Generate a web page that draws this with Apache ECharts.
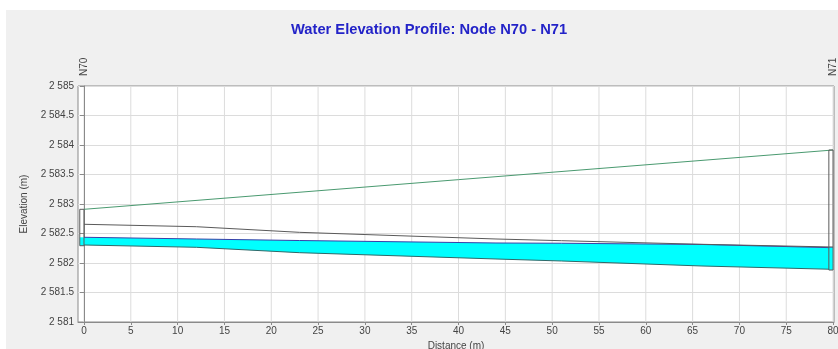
<!DOCTYPE html>
<html>
<head>
<meta charset="utf-8">
<script src="https://cdn.jsdelivr.net/npm/echarts@6/dist/echarts.min.js"></script>
<style>
html,body{margin:0;padding:0;background:#fff;}
#chart{width:838px;height:349px;}
</style>
</head>
<body>
<div id="chart"></div>
<script>
// ---- data ----
const titleText = 'Water Elevation Profile: Node N70 - N71';
const xTicks = [0,5,10,15,20,25,30,35,40,45,50,55,60,65,70,75,80];
const nodeNames = ['N70','N71'];
const nodeX = [0, 80];
const nodeRim = [2582.91, 2583.915];
const nodeInvert = [2582.293, 2581.881];
const nodeWater = [2582.436, 2582.259];
const profileDist = [0, 12, 23, 44, 51, 66, 80];
const crownElev = [2582.656, 2582.615, 2582.520, 2582.407, 2582.378, 2582.317, 2582.271];
const waterElev = [2582.436, 2582.407, 2582.381, 2582.339, 2582.335, 2582.314, 2582.259];
const invertElev = [2582.305, 2582.266, 2582.175, 2582.068, 2582.034, 2581.949, 2581.893];

// ---- chart ----
const NODE_W = 0.45; // node box width in m (drawn left of node)
const Y_MIN = 2581, Y_MAX = 2585;
const chart = echarts.init(document.getElementById('chart'), null, {renderer:'canvas'});
const FONT = '"Liberation Sans", Arial, sans-serif';
const LBL = '#444';

function fmtElev(v){
  const s = String(Math.round(v*10)/10);
  const parts = s.split('.');
  const ip = parts[0];
  const head = ip.slice(0, ip.length-3), tail = ip.slice(-3);
  return (head ? head + ' ' : '') + tail + (parts[1] ? '.' + parts[1] : '');
}

const option = {
  animation:false,
  backgroundColor:'#ffffff',
  graphic:[{type:'rect', left:6, top:10, shape:{width:832, height:339}, style:{fill:'#f0f0f0'}, z:-10, silent:true}],
  title:{
    text:titleText, left:291, top:22, padding:0,
    textStyle:{color:'#2323c8', fontSize:14.7, fontWeight:'bold', fontFamily:FONT}
  },
  grid:{left:78, right:4, top:86, bottom:27, outerBoundsMode:'none', containLabel:false,
    show:true, backgroundColor:'#ffffff', borderColor:'#8a8a8a', borderWidth:1},
  xAxis:[{
    type:'value', min:-0.64, max:80.1, position:'bottom',
    name:'Distance (m)', nameLocation:'middle', nameGap:17,
    nameTextStyle:{color:LBL, fontSize:10, fontFamily:FONT},
    axisLine:{show:true, lineStyle:{color:'#8a8a8a'}},
    axisTick:{show:true, length:3, customValues:xTicks, lineStyle:{color:'#8a8a8a'}},
    axisLabel:{customValues:xTicks, color:LBL, fontSize:10, fontFamily:FONT, margin:4},
    splitLine:{show:false}
  },{
    type:'value', min:-0.64, max:80.1, position:'top',
    axisLine:{show:false}, axisTick:{show:false}, splitLine:{show:false},
    axisLabel:{customValues:nodeX, rotate:-90, margin:10, color:LBL, fontSize:10, fontFamily:FONT,
      formatter:function(v){ const i = nodeX.indexOf(v); return i >= 0 ? nodeNames[i] : ''; }}
  }],
  yAxis:{
    type:'value', min:Y_MIN, max:Y_MAX, interval:0.5,
    name:'Elevation (m)', nameLocation:'middle', nameGap:45, nameRotate:90,
    nameTextStyle:{color:LBL, fontSize:10, fontFamily:FONT},
    axisLine:{show:true, lineStyle:{color:'#8a8a8a'}},
    axisTick:{show:true, length:4, lineStyle:{color:'#8a8a8a'}},
    axisLabel:{color:LBL, fontSize:10, fontFamily:FONT, margin:4, formatter:fmtElev},
    splitLine:{show:true, lineStyle:{color:'#dcdcdc', width:1}}
  },
  series:[
    {
      // vertical grid lines at the distance ticks
      type:'custom', z:0, silent:true,
      data:xTicks.map(v=>[v]),
      renderItem:function(params, api){
        const a = api.coord([api.value(0), Y_MIN]);
        const b = api.coord([api.value(0), Y_MAX]);
        return {type:'line', shape:{x1:a[0], y1:a[1], x2:b[0], y2:b[1]}, style:{stroke:'#dcdcdc', lineWidth:1}};
      }
    },
    {
      // ground / rim line
      type:'line', z:2, symbol:'none',
      data:nodeX.map((x,i)=>[x, nodeRim[i]]),
      lineStyle:{color:'#4a9a70', width:1}
    },
    {
      // water body polygon
      type:'custom', z:3,
      data:[[0]],
      renderItem:function(params, api){
        const pts = [];
        for (let i=0;i<profileDist.length;i++) pts.push(api.coord([profileDist[i], waterElev[i]]));
        for (let i=profileDist.length-1;i>=0;i--) pts.push(api.coord([profileDist[i], invertElev[i]]));
        return {type:'polygon', shape:{points:pts}, style:{fill:'#00ffff', stroke:null}};
      }
    },
    {
      type:'line', z:4, symbol:'none',
      data:profileDist.map((x,i)=>[x, invertElev[i]]),
      lineStyle:{color:'#2f6868', width:1}
    },
    {
      type:'line', z:4, symbol:'none',
      data:profileDist.map((x,i)=>[x, waterElev[i]]),
      lineStyle:{color:'#3a3fa8', width:1}
    },
    {
      type:'line', z:5, symbol:'none',
      data:profileDist.map((x,i)=>[x, crownElev[i]]),
      lineStyle:{color:'#5a5a5a', width:1}
    },
    {
      // node boxes
      type:'custom', z:6, clip:false,
      data:nodeX.map((x,i)=>[x, nodeRim[i], nodeInvert[i], nodeWater[i]]),
      renderItem:function(params, api){
        const x = api.value(0);
        const pTop = api.coord([x - NODE_W, api.value(1)]);
        const pBot = api.coord([x, api.value(2)]);
        const pW = api.coord([x, api.value(3)]);
        const l = pTop[0], r = pBot[0];
        return {type:'group', children:[
          {type:'rect', shape:{x:l, y:pW[1], width:r-l, height:pBot[1]-pW[1]}, style:{fill:'#00ffff', stroke:null}},
          {type:'rect', shape:{x:l, y:pTop[1], width:r-l, height:pBot[1]-pTop[1]}, style:{fill:null, stroke:'#5a5a5a', lineWidth:1}}
        ]};
      }
    }
  ]
};
chart.setOption(option);
</script>
</body>
</html>
